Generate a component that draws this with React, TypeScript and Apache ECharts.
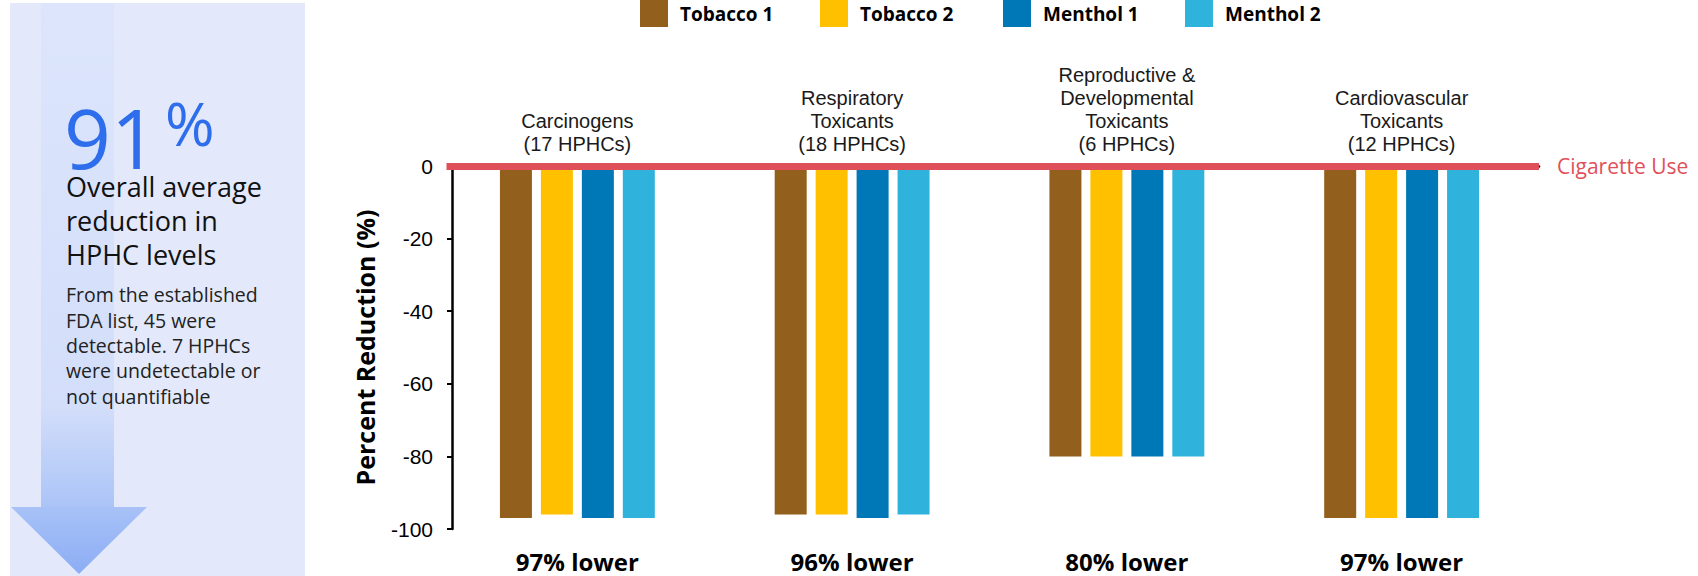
import React, { useEffect, useRef } from "react";
import * as echarts from "echarts";

// ---- data ----
const categories = [
  "Carcinogens\n(17 HPHCs)",
  "Respiratory\nToxicants\n(18 HPHCs)",
  "Reproductive &\nDevelopmental\nToxicants\n(6 HPHCs)",
  "Cardiovascular\nToxicants\n(12 HPHCs)",
];
const groupReductions = [97, 96, 80, 97];
const seriesNames = ["Tobacco 1", "Tobacco 2", "Menthol 1", "Menthol 2"];
const tobacco1 = [-97, -96, -80, -97];
const tobacco2 = [-96, -96, -80, -97];
const menthol1 = [-97, -97, -80, -97];
const menthol2 = [-97, -96, -80, -97];
const seriesValues = [tobacco1, tobacco2, menthol1, menthol2];
const seriesColors = ["#935F1C", "#FFC000", "#0077B6", "#2FB3DD"];
const yMin = -100;
const yMax = 0;
const yInterval = 20;
const referenceLabel = "Cigarette Use";
const headlineNumber = "91";
const headlineUnit = "%";
const headlineText = ["Overall average", "reduction in", "HPHC levels"];
const noteText = [
  "From the established",
  "FDA list, 45 were",
  "detectable. 7 HPHCs",
  "were undetectable or",
  "not quantifiable",
];

const SANS = '"Open Sans", "Noto Sans", sans-serif';
const ARIAL = '"Liberation Sans", Arial, sans-serif';
const RED = "#E0505A";

export default function App() {
  const ref = useRef<HTMLDivElement>(null);

  useEffect(() => {
    if (!ref.current) return;
    const chart = echarts.init(ref.current, undefined, { renderer: "svg" });

    const legendLefts = [640, 820, 1003, 1185];
    const gridLeft = 440;
    const axisShift = 12; // y-axis line sits 12px right of the grid edge
    const gridTop = 166;
    const gridHeight = 363;

    const option: any = {
      animation: false,
      backgroundColor: "#ffffff",
      legend: seriesNames.map((name, i) => ({
        data: [name],
        left: legendLefts[i],
        top: 0,
        padding: 0,
        itemWidth: 28,
        itemHeight: 27,
        icon: "rect",
        selectedMode: false,
        textStyle: {
          fontFamily: SANS,
          fontWeight: "bold",
          fontSize: 19,
          color: "#000",
          padding: [0, 0, 0, 7],
        },
      })),
      grid: { left: gridLeft, top: gridTop, width: 1099, height: gridHeight },
      xAxis: [
        {
          type: "category",
          position: "bottom",
          data: categories,
          axisLine: { show: true, lineStyle: { color: "#000", width: 2.5 } },
          axisTick: { show: false },
          axisLabel: {
            interval: 0,
            margin: 20,
            fontFamily: SANS,
            fontWeight: "bold",
            fontSize: 24,
            color: "#000",
            formatter: (_v: string, idx: number) => `${groupReductions[idx]}% lower`,
          },
        },
        {
          type: "category",
          position: "top",
          data: categories,
          axisLine: { show: false },
          axisTick: { show: false },
          axisLabel: {
            interval: 0,
            margin: 11,
            fontFamily: ARIAL,
            fontSize: 20,
            lineHeight: 23,
            color: "#1a1a1a",
          },
        },
      ],
      yAxis: {
        type: "value",
        min: yMin,
        max: yMax,
        interval: yInterval,
        offset: -axisShift,
        name: "Percent Reduction (%)",
        nameLocation: "middle",
        nameGap: 75,
        nameTextStyle: {
          fontFamily: SANS,
          fontWeight: "bold",
          fontSize: 25,
          color: "#000",
        },
        axisLine: { show: true, lineStyle: { color: "#000", width: 2.5 } },
        axisTick: { show: true, length: 5, lineStyle: { color: "#000", width: 2 } },
        axisLabel: { margin: 19, fontFamily: ARIAL, fontSize: 21, color: "#000" },
        splitLine: { show: false },
      },
      series: seriesNames.map((name, i) => ({
        name,
        type: "bar",
        xAxisIndex: 0,
        data: seriesValues[i],
        barWidth: 32,
        barGap: "28%",
        itemStyle: { color: seriesColors[i] },
        ...(i === seriesNames.length - 1
          ? {
              markLine: {
                silent: true,
                symbol: ["none", "none"],
                data: [{ yAxis: 0 }],
                lineStyle: { color: RED, width: 7, type: "solid" },
                label: {
                  show: true,
                  position: "end",
                  formatter: referenceLabel,
                  color: RED,
                  fontFamily: SANS,
                  fontSize: 21,
                  distance: 18,
                },
              },
            }
          : {}),
      })),
      graphic: [
        {
          type: "rect",
          z: -10,
          shape: { x: 10, y: 3, width: 295, height: 573 },
          style: { fill: "#E3E9FA" },
        },
        {
          type: "rect",
          z: -9,
          shape: { x: 41, y: 3, width: 73, height: 504 },
          style: {
            fill: new echarts.graphic.LinearGradient(0, 0, 0, 1, [
              { offset: 0, color: "#DCE5FB" },
              { offset: 0.8, color: "#D3DEFA" },
              { offset: 1, color: "#ABC4F7" },
            ]),
          },
        },
        {
          type: "polygon",
          z: -9,
          shape: { points: [[11, 507], [147, 507], [79, 574]] },
          style: {
            fill: new echarts.graphic.LinearGradient(0, 0, 0, 1, [
              { offset: 0, color: "#A8C2F7" },
              { offset: 1, color: "#8CADF5" },
            ]),
          },
        },
        // white masks so the axis / reference lines start at the y-axis line
        {
          type: "rect",
          z: 100,
          shape: { x: gridLeft - 4, y: gridTop - 6, width: axisShift - 1.5, height: 12 },
          style: { fill: "#ffffff" },
        },
        {
          type: "rect",
          z: 100,
          shape: { x: gridLeft - 4, y: gridTop + gridHeight - 4, width: axisShift - 1.5, height: 8 },
          style: { fill: "#ffffff" },
        },
        {
          type: "text",
          x: 64,
          y: 137,
          style: {
            text: headlineNumber,
            font: `82px ${SANS}`,
            lineHeight: 50,
            fill: "#2E6DEB",
            verticalAlign: "middle",
          },
        },
        {
          type: "text",
          x: 165,
          y: 123,
          style: {
            text: headlineUnit,
            font: `60px ${SANS}`,
            lineHeight: 44,
            fill: "#2E6DEB",
            verticalAlign: "middle",
          },
        },
        {
          type: "text",
          x: 66,
          y: 169,
          style: {
            text: headlineText.join("\n"),
            font: `27px ${SANS}`,
            lineHeight: 34,
            fill: "#111",
            verticalAlign: "top",
          },
        },
        {
          type: "text",
          x: 66,
          y: 282,
          style: {
            text: noteText.join("\n"),
            font: `19.5px ${SANS}`,
            lineHeight: 25.4,
            fill: "#222",
            verticalAlign: "top",
          },
        },
      ],
    };

    chart.setOption(option);
    return () => chart.dispose();
  }, []);

  return (
    <div
      ref={ref}
      style={{ position: "fixed", left: 0, top: 0, width: 1698, height: 576, background: "#fff" }}
    />
  );
}
